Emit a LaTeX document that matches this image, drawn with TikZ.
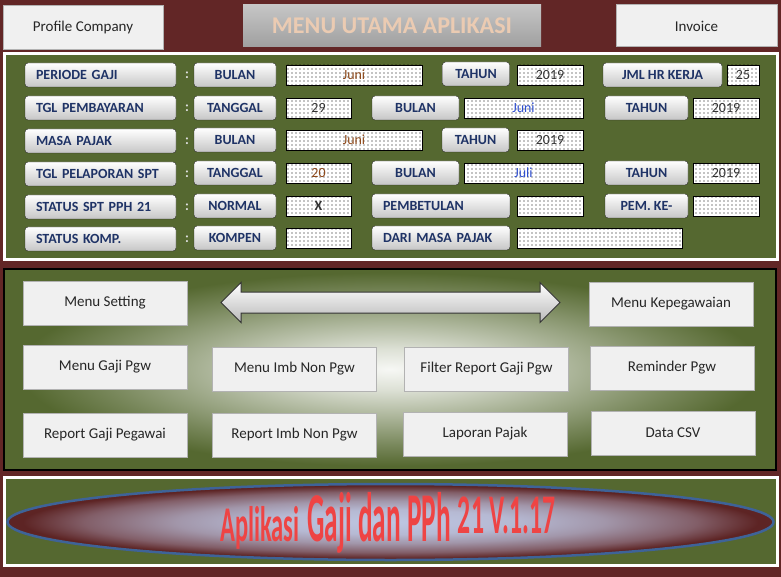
\documentclass[tikz,border=0pt]{standalone}
\usepackage{fontspec}
\setmainfont{Carlito}
\usetikzlibrary{positioning,shapes.geometric,shapes.arrows,patterns}

\definecolor{latar}{HTML}{622626}
\definecolor{hijau}{HTML}{556830}
\definecolor{navy}{HTML}{1F3366}
\definecolor{coklat}{HTML}{8E4A1C}
\definecolor{birutek}{HTML}{2F4FD0}
\definecolor{biruelips}{HTML}{3E6398}
\definecolor{merahjudul}{HTML}{EE4444}
\definecolor{ungu}{HTML}{BDC6E2}
\definecolor{peach}{HTML}{EBCBB2}

% gradasi panel menu dan elips versi
\pgfdeclareradialshading{sorotmenu}{\pgfpoint{0bp}{0bp}}{color(0bp)=(white!95!hijau); color(5bp)=(white!80!hijau); color(12bp)=(hijau!50!white); color(19bp)=(hijau!80!white); color(24bp)=(hijau); color(50bp)=(hijau)}
\pgfdeclareradialshading{sorotelips}{\pgfpoint{0bp}{0bp}}{color(0bp)=(ungu); color(8bp)=(ungu!92!latar); color(14bp)=(ungu!70!latar); color(20bp)=(ungu!35!latar); color(24bp)=(latar!95!black); color(50bp)=(latar!95!black)}

% titik-titik kolom isian
\pgfdeclarepatternformonly{titik4}{\pgfqpoint{-1pt}{-1pt}}{\pgfqpoint{1pt}{1pt}}{\pgfqpoint{4pt}{4pt}}{\pgfpathcircle{\pgfqpoint{0pt}{0pt}}{0.6pt}\pgfusepath{fill}}

\begin{document}
\begin{tikzpicture}[x=1pt, y=-1pt,
	tombol/.style={rectangle, draw=gray!60, line width=1pt, fill=gray!12, minimum height=44pt, minimum width=164pt, font=\fontsize{15}{18}\selectfont, text=black!85},
	kolom/.style={rectangle, draw=black!85, rounded corners=3pt, top color=white, bottom color=gray!45, minimum height=24pt, inner sep=2pt, font=\fontsize{14}{16}\selectfont\bfseries, text=navy},
	kolomkiri/.style={kolom, text width=#1, align=left, inner xsep=11pt},
	isian/.style={rectangle, draw=black, line width=0.8pt, preaction={fill=white}, pattern=titik4, pattern color=black, minimum height=20pt, inner sep=0pt, font=\fontsize{14}{16}\selectfont, text=black!80},
	titik/.style={font=\fontsize{14}{16}\selectfont\bfseries, text=gray!25}
	]
	
	% latar belakang
	\useasboundingbox (0,0) rectangle (781,577);
	\fill[latar] (0,0) rectangle (781,577);
	
	% tombol atas + judul
	\node[tombol, minimum width=160pt] (profil) at (83,28) {Profile Company};
	\node[rectangle, top color=gray!45, bottom color=gray!75, minimum width=298pt, minimum height=42pt, font=\fontsize{24}{28}\selectfont\bfseries, text=peach] (menuutama) at (392,26) {MENU UTAMA APLIKASI};
	\node[tombol, minimum width=161pt, minimum height=42pt] (invoice) at (696.5,26) {Invoice};
	
	% panel data
	\draw[white, line width=3pt, fill=hijau] (4.5,53.5) rectangle (777,259.5);
	\foreach \y/\n in {75/1,108/2,141/3,174/4,207/5,239/6}
		\node[titik] (titikdua\n) at (187,\y) {:};
	
	% baris 1
	\node[kolomkiri=129pt] (periode) at (100.5,75) {PERIODE GAJI};
	\node[kolom, minimum width=82pt] (bulan1) at (235,75) {BULAN};
	\node[isian, minimum width=136pt, text=coklat] (isibulan1) at (354,75) {Juni};
	\node[kolom, minimum width=67pt] (tahun1) at (476,74) {TAHUN};
	\node[isian, minimum width=66pt] (isitahun1) at (550,75) {2019};
	\node[kolom, minimum width=119pt] (jmlhari) at (662.5,75) {JML HR KERJA};
	\node[isian, minimum width=32pt] (isihari) at (743,75) {25};
	
	% baris 2
	\node[kolomkiri=129pt] (tglbayar) at (100.5,108) {TGL PEMBAYARAN};
	\node[kolom, minimum width=82pt] (tanggal2) at (235,108) {TANGGAL};
	\node[isian, minimum width=65pt] (isitanggal2) at (318.5,108) {29};
	\node[kolom, minimum width=87pt] (bulan2) at (415.5,108) {BULAN};
	\node[isian, minimum width=119pt, text=birutek] (isibulan2) at (523.5,108) {Juni};
	\node[kolom, minimum width=83pt] (tahun2) at (646.5,108) {TAHUN};
	\node[isian, minimum width=66pt] (isitahun2) at (726,108) {2019};
	
	% baris 3
	\node[kolomkiri=129pt] (masapajak) at (100.5,141) {MASA PAJAK};
	\node[kolom, minimum width=82pt] (bulan3) at (235,140) {BULAN};
	\node[isian, minimum width=136pt, text=coklat] (isibulan3) at (354,140) {Juni};
	\node[kolom, minimum width=67pt] (tahun3) at (475.5,140) {TAHUN};
	\node[isian, minimum width=66pt] (isitahun3) at (550,140) {2019};
	
	% baris 4
	\node[kolomkiri=129pt] (pelaporan) at (100.5,174) {TGL PELAPORAN SPT};
	\node[kolom, minimum width=82pt] (tanggal4) at (235,173) {TANGGAL};
	\node[isian, minimum width=65pt, text=coklat] (isitanggal4) at (318.5,173) {20};
	\node[kolom, minimum width=87pt] (bulan4) at (415.5,173) {BULAN};
	\node[isian, minimum width=119pt, text=birutek] (isibulan4) at (523.5,173) {Juli};
	\node[kolom, minimum width=83pt] (tahun4) at (646.5,173) {TAHUN};
	\node[isian, minimum width=66pt] (isitahun4) at (726,173) {2019};
	
	% baris 5
	\node[kolomkiri=129pt] (statusspt) at (100.5,207) {STATUS SPT PPH 21};
	\node[kolom, minimum width=82pt] (normal) at (235,206) {NORMAL};
	\node[isian, minimum width=65pt, font=\fontsize{14}{16}\selectfont\bfseries] (isinormal) at (318.5,206) {X};
	\node[kolomkiri=116pt] (pembetulan) at (441,206) {PEMBETULAN};
	\node[isian, minimum width=66pt] (isipembetulan) at (550,206) {};
	\node[kolom, minimum width=83pt] (pemke) at (646.5,206) {PEM. KE-};
	\node[isian, minimum width=66pt] (isipemke) at (726,206) {};
	
	% baris 6
	\node[kolomkiri=129pt] (statuskomp) at (100.5,239) {STATUS KOMP.};
	\node[kolom, minimum width=82pt] (kompen) at (235,238) {KOMPEN};
	\node[isian, minimum width=65pt] (isikompen) at (318.5,238) {};
	\node[kolomkiri=116pt] (darimasa) at (441,238) {DARI MASA PAJAK};
	\node[isian, minimum width=165pt] (isidarimasa) at (599.5,238) {};
	
	% panel menu
	\draw[black, line width=2pt, shading=sorotmenu] (4,268.5) rectangle (776,470);
	\node[double arrow, draw=black!80, line width=1pt, top color=white, bottom color=gray!55, minimum width=39pt, minimum height=339pt, double arrow head extend=9.5pt, inner xsep=0pt, inner ysep=10pt] (geser) at (390.5,302.5) {};
	
	\node[tombol] (setting) at (105,303) {Menu Setting};
	\node[tombol] (gajipgw) at (105,367) {Menu Gaji Pgw};
	\node[tombol] (repgaji) at (105,435) {Report Gaji Pegawai};
	\node[tombol] (imbnon) at (294.5,369) {Menu Imb Non Pgw};
	\node[tombol] (repimb) at (294.5,435) {Report Imb Non Pgw};
	\node[tombol] (filter) at (486.5,369) {Filter Report Gaji Pgw};
	\node[tombol] (pajak) at (485,434) {Laporan Pajak};
	\node[tombol] (kepeg) at (671,304) {Menu Kepegawaian};
	\node[tombol] (reminder) at (672,368) {Reminder Pgw};
	\node[tombol] (csv) at (673,433) {Data CSV};
	
	% panel versi
	\draw[white, line width=3pt, fill=hijau] (4.5,477.5) rectangle (777.5,565.5);
	\node[ellipse, draw=biruelips, line width=2.5pt, shading=sorotelips, minimum width=766pt, minimum height=76pt] (elips) at (390.5,522) {};
	\node[anchor=base west, inner sep=0pt, text=merahjudul, font=\bfseries] (versi) at (220,541) {\scalebox{0.49}[1]{\fontsize{50}{50}\selectfont Aplikasi}\hspace{8pt}\scalebox{0.39}[1]{\fontsize{70}{70}\selectfont Gaji dan PPh}\hspace{7pt}\raisebox{8pt}{\scalebox{0.46}[1]{\fontsize{56}{56}\selectfont 21 V.1.17}}};
	
\end{tikzpicture}
\end{document}
